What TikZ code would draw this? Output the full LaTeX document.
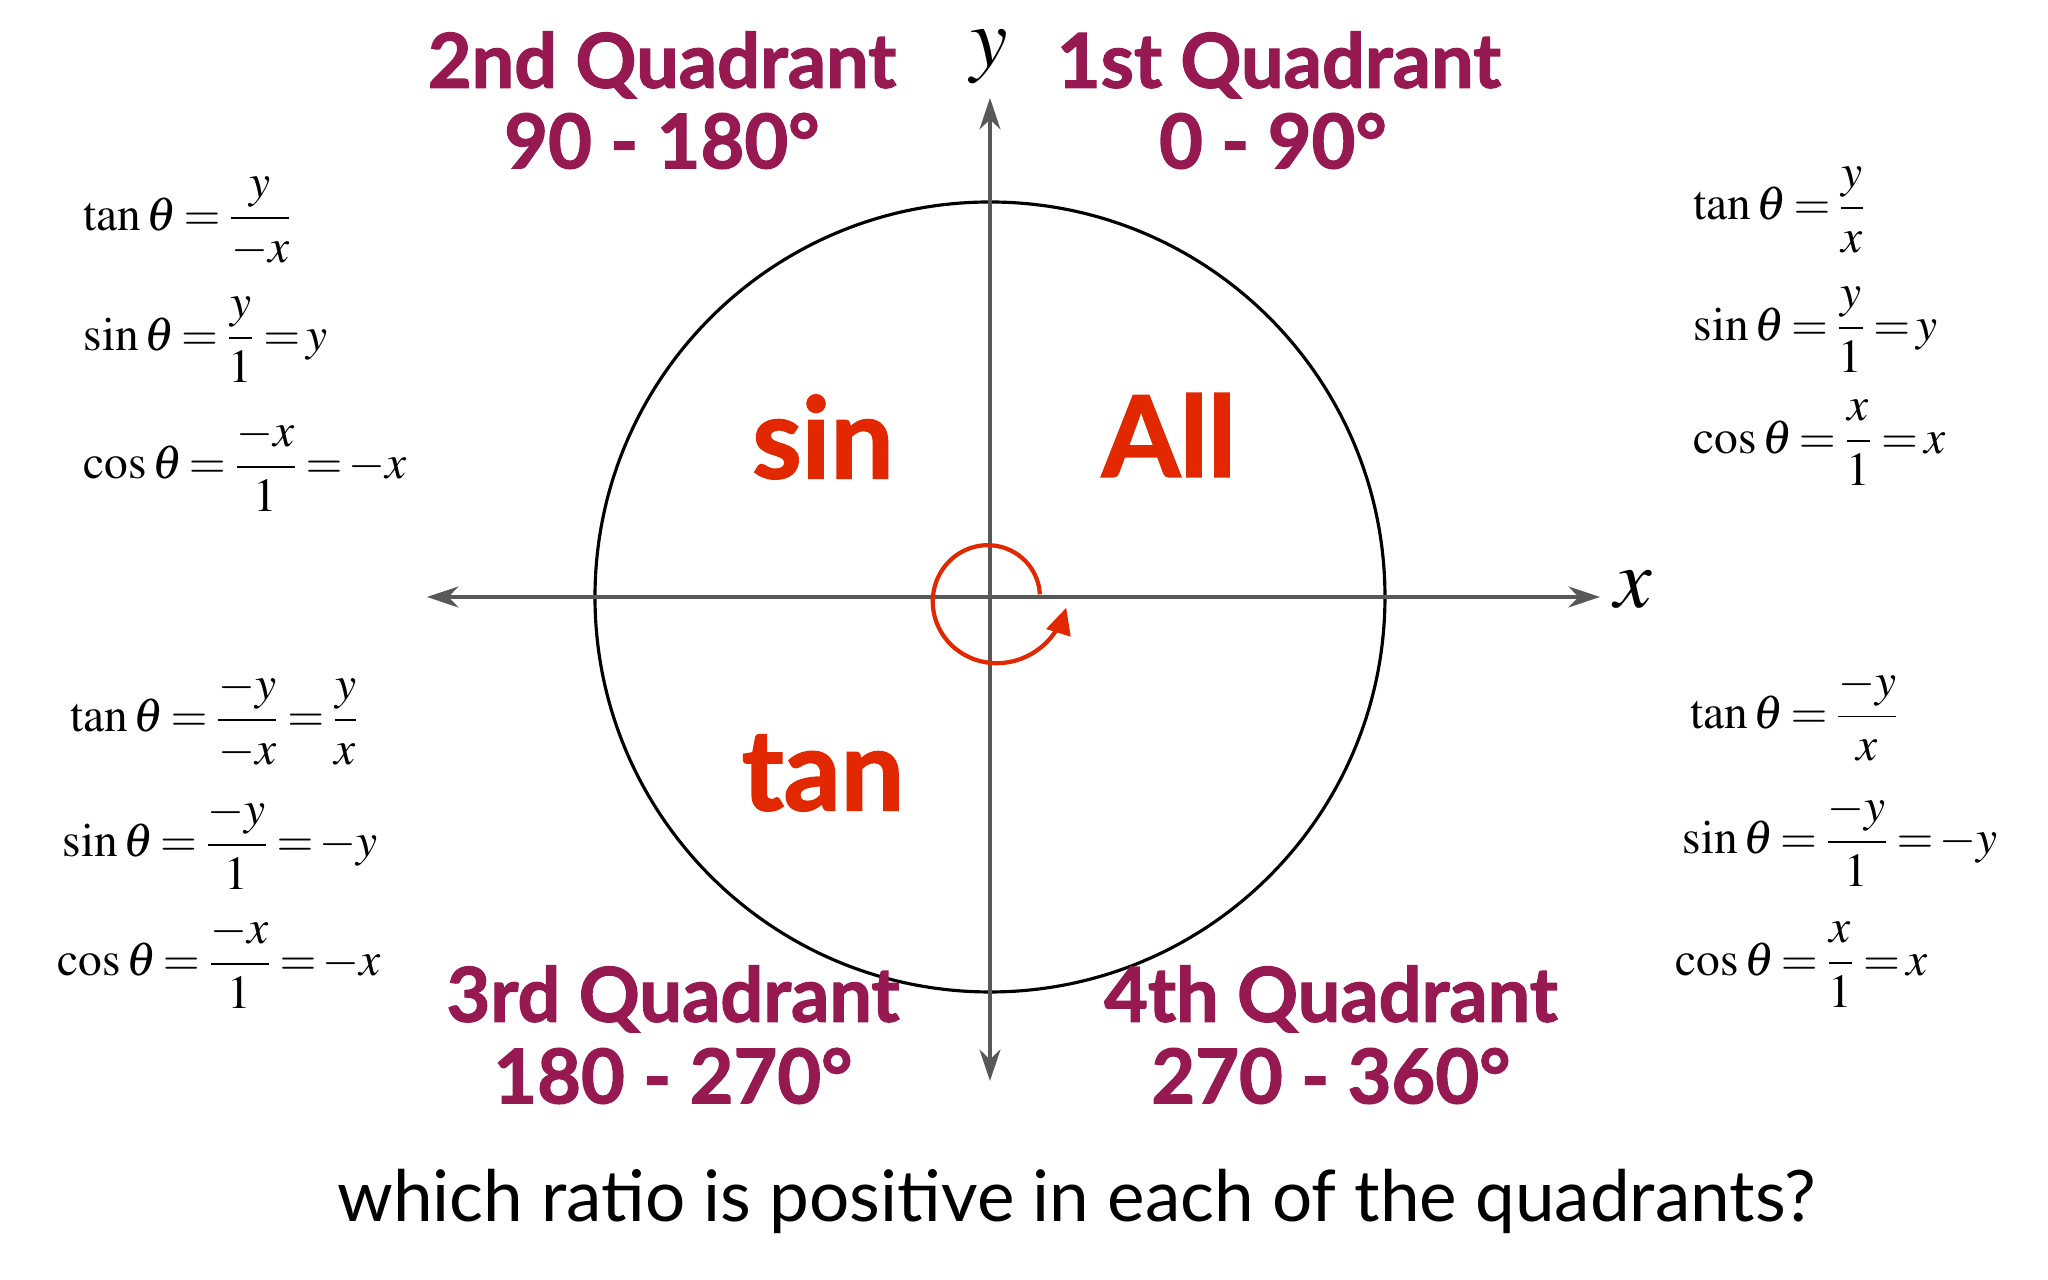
\documentclass[tikz,border=0pt]{standalone}
\usepackage{amsmath}
\usepackage{mathptmx}
\usepackage{fontspec}
\setmainfont{Liberation Serif}
\newfontfamily\gillfont[BoldFeatures={FakeBold=1.6}]{Lato}
\newcommand{\tightrel}{\thickmuskip=2.5mu\relax}
\usetikzlibrary{arrows.meta}
\usetikzlibrary{positioning}
\definecolor{quadpurple}{RGB}{150,25,82}
\definecolor{signred}{RGB}{225,40,0}
\definecolor{axisgrey}{RGB}{88,88,88}
\tikzset{
    quad_title/.style = {text=quadpurple, inner sep=0pt, font=\gillfont\bfseries\fontsize{21.5}{25}\selectfont},
    sign_word/.style = {text=signred, inner sep=0pt, font=\gillfont\bfseries\fontsize{32}{38}\selectfont},
    eq_node/.style = {anchor=west, inner sep=0pt, font=\fontsize{13.5}{16}\selectfont\tightrel},
    axis_label/.style = {inner sep=0pt, font=\fontsize{24}{28}\selectfont},
    axis/.style = {draw=axisgrey, line width=0.95pt, {Stealth[length=9pt,width=6pt]}-{Stealth[length=9pt,width=6pt]}},
    spin/.style = {draw=signred, line width=1.2pt, -{Triangle[length=7.5pt,width=7pt]}}
}
\begin{document}
\begin{tikzpicture}
    \useasboundingbox (-9.90,-6.83) rectangle (10.58,5.97);
    \coordinate (origin) at (0,0);
    \node [circle, draw=black, line width=0.9pt, minimum size=7.9cm] (unit_circle) at (origin) {};
    % axes
    \coordinate (x_left) at (-5.63,0);
    \coordinate (x_right) at (6.10,0);
    \coordinate (y_bottom) at (0,-4.84);
    \coordinate (y_top) at (0,4.99);
    \draw [axis] (x_left) -- (x_right);
    \draw [axis] (y_bottom) -- (y_top);
    \node [axis_label] (x_name) at (6.43,0.07) {$x$};
    \node [axis_label] (y_name) at (-0.01,5.40) {$y$};
    \draw [spin] plot [smooth, domain=3:352, samples=40, variable=\t]
        ({(0.5+0.27*(\t/352)^2)*cos(\t)}, {(0.5+0.27*(\t/352)^2)*sin(\t)});
    % quadrant titles
    \node [quad_title] (q2_title) at (-3.28,5.32) {2nd Quadrant};
    \node [quad_title] (q2_range) at (-3.28,4.56) {90 - 180°};
    \node [quad_title] (q1_title) at (2.89,5.32) {1st Quadrant};
    \node [quad_title] (q1_range) at (2.83,4.56) {0 - 90°};
    \node [quad_title] (q3_title) at (-3.17,-4.02) {3rd Quadrant};
    \node [quad_title] (q3_range) at (-3.17,-4.79) {180 - 270°};
    \node [quad_title] (q4_title) at (3.41,-4.02) {4th Quadrant};
    \node [quad_title] (q4_range) at (3.41,-4.79) {270 - 360°};
    % positive ratios
    \node [sign_word] (q2_sign) at (-1.67,1.60) {sin};
    \node [sign_word] (q1_sign) at (1.79,1.62) {All};
    \node [sign_word] (q3_sign) at (-1.67,-1.76) {tan};
    % ratios
    \node [eq_node] (q2_tan) at (-9.07,3.75) {$\tan\theta = \dfrac{y}{-x}$};
    \node [eq_node] (q2_sin) at (-9.07,2.57) {$\sin\theta = \dfrac{y}{1} = y$};
    \node [eq_node] (q2_cos) at (-9.07,1.32) {$\cos\theta = \dfrac{-x}{1} = -x$};
    \node [eq_node] (q1_tan) at (7.03,3.87) {$\tan\theta = \dfrac{y}{x}$};
    \node [eq_node] (q1_sin) at (7.03,2.67) {$\sin\theta = \dfrac{y}{1} = y$};
    \node [eq_node] (q1_cos) at (7.03,1.54) {$\cos\theta = \dfrac{x}{1} = x$};
    \node [eq_node] (q3_tan) at (-9.20,-1.23) {$\tan\theta = \dfrac{-y}{-x} = \dfrac{y}{x}$};
    \node [eq_node] (q3_sin) at (-9.28,-2.46) {$\sin\theta = \dfrac{-y}{1} = -y$};
    \node [eq_node] (q3_cos) at (-9.33,-3.65) {$\cos\theta = \dfrac{-x}{1} = -x$};
    \node [eq_node] (q4_tan) at (7.00,-1.18) {$\tan\theta = \dfrac{-y}{x}$};
    \node [eq_node] (q4_sin) at (6.92,-2.43) {$\sin\theta = \dfrac{-y}{1} = -y$};
    \node [eq_node] (q4_cos) at (6.85,-3.68) {$\cos\theta = \dfrac{x}{1} = x$};
    \node [inner sep=0pt, font=\gillfont\fontsize{20.2}{24}\selectfont] (question) at (0.87,-6.04)
        {which ratio is positive in each of the quadrants?};
\end{tikzpicture}
\end{document}
